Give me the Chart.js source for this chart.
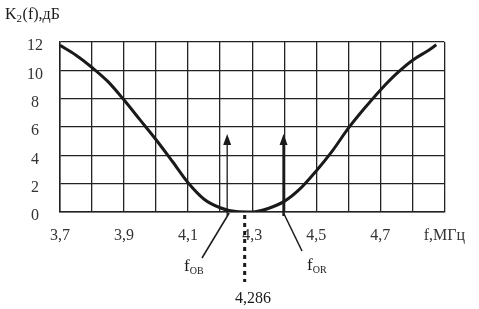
<!DOCTYPE html>
<html>
<head>
<meta charset="utf-8">
<script src="https://cdn.jsdelivr.net/npm/chart.js@4.4.1/dist/chart.umd.min.js"></script>
<style>
  html, body { margin: 0; padding: 0; background: #fff; }
  #wrap { width: 479px; height: 309px; position: relative; }
</style>
</head>
<body>
<div id="wrap"><canvas id="c"></canvas></div>
<script>
/* K2(f) — frequency response */
var freq = [3.70, 3.75, 3.80, 3.85, 3.90, 3.95, 4.00, 4.05, 4.10, 4.15, 4.20, 4.25,
            4.30, 4.35, 4.40, 4.45, 4.50, 4.55, 4.60, 4.65, 4.70, 4.75, 4.80, 4.85, 4.875];
var gain = [11.77, 11.07, 10.2, 9.2, 7.9, 6.5, 5.1, 3.6, 2.06, 0.9, 0.3, 0.03,
            0.0, 0.25, 0.75, 1.65, 2.9, 4.3, 5.9, 7.3, 8.6, 9.75, 10.7, 11.4, 11.8];
var xTicks = ['3,7', '', '3,9', '', '4,1', '', '4,3', '', '4,5', '', '4,7', '', 'f,МГц'];
var yTicks = [0, 2, 4, 6, 8, 10, 12];
var fOB = 4.222, fOR = 4.398, fCenter = 4.286, arrowTop = 5.5;

var INK = '#1a1a1a';
var FONT = '"Liberation Serif", "Times New Roman", serif';

var marks = {
  id: 'marks',
  afterDatasetsDraw: function (chart) {
    var ctx = chart.ctx, x = chart.scales.x, y = chart.scales.y;
    var y0 = y.getPixelForValue(0);
    ctx.save();
    ctx.strokeStyle = INK; ctx.fillStyle = INK;

    function arrow(f, w) {
      var px = x.getPixelForValue(f), top = y.getPixelForValue(arrowTop);
      ctx.lineWidth = w;
      ctx.beginPath(); ctx.moveTo(px, y0 + 4); ctx.lineTo(px, top + 8); ctx.stroke();
      ctx.beginPath(); ctx.moveTo(px, top); ctx.lineTo(px - 4, top + 11); ctx.lineTo(px + 4, top + 11);
      ctx.closePath(); ctx.fill();
    }
    arrow(fOB, 1.3);
    arrow(fOR, 2.4);

    // leader lines to labels
    ctx.lineWidth = 1.5;
    ctx.beginPath(); ctx.moveTo(x.getPixelForValue(fOB) + 2, y0 + 1); ctx.lineTo(202, 258); ctx.stroke();
    ctx.beginPath(); ctx.moveTo(x.getPixelForValue(fOR), y0 + 1); ctx.lineTo(302, 251); ctx.stroke();

    // dotted marker for centre frequency
    var pc = x.getPixelForValue(fCenter) - 3;
    ctx.lineWidth = 3; ctx.setLineDash([4, 4]);
    ctx.beginPath(); ctx.moveTo(pc, y0 + 3); ctx.lineTo(pc, 282); ctx.stroke();
    ctx.setLineDash([]);

    ctx.font = '16px ' + FONT; ctx.textBaseline = 'alphabetic'; ctx.textAlign = 'center';
    ctx.fillText('4,286', 253, 303);

    function sub(main, s, px, py) {
      ctx.textAlign = 'left';
      ctx.font = '17px ' + FONT; ctx.fillText(main, px, py);
      var w = ctx.measureText(main).width;
      ctx.font = '10px ' + FONT; ctx.fillText(s, px + w, py + 3);
    }
    sub('f', 'OB', 184, 271);
    sub('f', 'OR', 307, 270);

    // axis title
    ctx.textAlign = 'left';
    ctx.font = '16px ' + FONT; ctx.fillText('K', 5, 19);
    var kw = ctx.measureText('K').width;
    ctx.font = '11px ' + FONT; ctx.fillText('2', 5 + kw, 22);
    ctx.font = '16px ' + FONT; ctx.fillText('(f),дБ', 5 + kw + 6, 19);
    ctx.restore();
  }
};

new Chart(document.getElementById('c'), {
  type: 'line',
  data: {
    datasets: [{
      data: freq.map(function (f, i) { return { x: f, y: gain[i] }; }),
      borderColor: INK, borderWidth: 3, pointRadius: 0,
      cubicInterpolationMode: 'monotone', fill: false
    }]
  },
  options: {
    responsive: true, maintainAspectRatio: false, animation: false,
    layout: { padding: { left: 0, right: 29, top: 42, bottom: 0 } },
    plugins: { legend: { display: false }, tooltip: { enabled: false } },
    scales: {
      x: {
        type: 'linear', min: 3.7, max: 4.9,
        afterFit: function (s) { s.height = 97; },
        afterBuildTicks: function (s) {
          s.ticks = xTicks.map(function (t, i) { return { value: 3.7 + i * 0.1 }; });
        },
        grid: { color: '#222', lineWidth: 1.3, drawTicks: false },
        border: { color: '#222', width: 1.5 },
        ticks: {
          padding: 14, maxRotation: 0, autoSkip: false, color: '#333',
          font: { family: FONT, size: 16 },
          callback: function (v, i) { return xTicks[i]; }
        }
      },
      y: {
        min: 0, max: 12,
        afterFit: function (s) { s.width = 60; },
        afterBuildTicks: function (s) {
          s.ticks = yTicks.map(function (v) { return { value: v }; });
        },
        grid: { color: '#222', lineWidth: 1.3, drawTicks: false },
        border: { color: '#222', width: 1.5 },
        ticks: {
          padding: 17, crossAlign: 'center', labelOffset: 4, color: '#333',
          font: { family: FONT, size: 16 }
        }
      }
    }
  },
  plugins: [marks]
});
</script>
</body>
</html>
